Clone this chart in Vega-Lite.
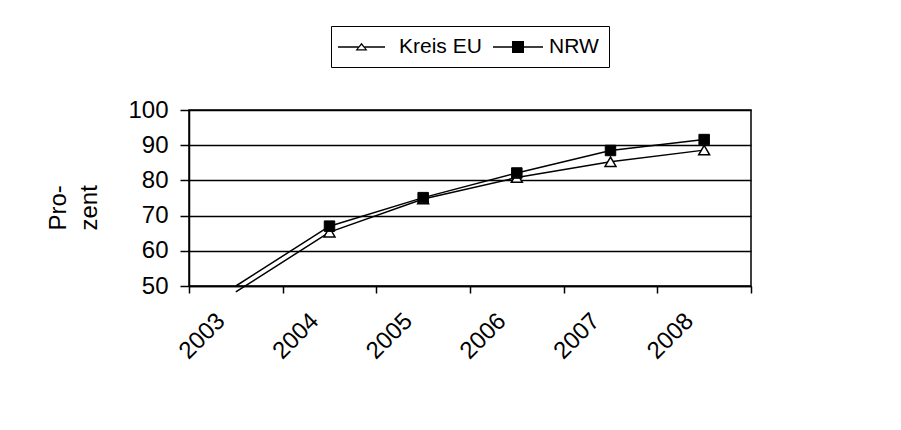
{
  "$schema": "https://vega.github.io/schema/vega-lite/v6.json",
  "width": 562,
  "height": 176,
  "autosize": {"type": "none"},
  "padding": {"left": 189, "top": 110, "right": 150, "bottom": 144},
  "background": "white",
  "config": {
    "font": "Liberation Sans",
    "view": {"stroke": "black", "strokeWidth": 1.5, "fill": "white"}
  },
  "data": {
    "values": [
      {"year": "2003", "series": "Kreis EU", "value": 48.3},
      {"year": "2004", "series": "Kreis EU", "value": 65.3},
      {"year": "2005", "series": "Kreis EU", "value": 74.7},
      {"year": "2006", "series": "Kreis EU", "value": 80.8},
      {"year": "2007", "series": "Kreis EU", "value": 85.3},
      {"year": "2008", "series": "Kreis EU", "value": 88.6},
      {"year": "2003", "series": "NRW", "value": 50.0},
      {"year": "2004", "series": "NRW", "value": 67.0},
      {"year": "2005", "series": "NRW", "value": 75.1},
      {"year": "2006", "series": "NRW", "value": 82.1},
      {"year": "2007", "series": "NRW", "value": 88.5},
      {"year": "2008", "series": "NRW", "value": 91.6}
    ]
  },
  "encoding": {
    "x": {
      "field": "year",
      "type": "ordinal",
      "scale": {"paddingInner": 0, "paddingOuter": 0},
      "axis": {
        "title": null,
        "tickBand": "extent",
        "labelAngle": -45,
        "labelAlign": "right",
        "labelBaseline": "middle",
        "labelFontSize": 24,
        "labelColor": "black",
        "labelPadding": 24,
        "labelOffset": -15,
        "tickColor": "black",
        "tickSize": 7,
        "tickWidth": 1.5,
        "domainColor": "black",
        "domainWidth": 1.5,
        "grid": false
      }
    },
    "y": {
      "field": "value",
      "type": "quantitative",
      "scale": {"domain": [50, 100], "nice": false, "zero": false},
      "axis": {
        "values": [50, 60, 70, 80, 90, 100],
        "grid": true,
        "gridColor": "black",
        "gridWidth": 1.4,
        "tickSize": 9,
        "tickColor": "black",
        "tickWidth": 1.5,
        "domainColor": "black",
        "domainWidth": 1.5,
        "labelFontSize": 24,
        "labelPadding": 12,
        "labelColor": "black",
        "title": ["Pro-", "zent"],
        "titleFontSize": 24,
        "titleFontWeight": "normal",
        "titleColor": "black",
        "titleAngle": -90,
        "titleAlign": "left",
        "titleBaseline": "alphabetic",
        "titleX": -124,
        "titleY": 120,
        "titleLineHeight": 31
      }
    }
  },
  "layer": [
    {
      "mark": {"type": "line", "color": "black", "strokeWidth": 1.5},
      "encoding": {"detail": {"field": "series"}}
    },
    {
      "transform": [{"filter": "datum.series == 'Kreis EU' && datum.year != '2003'"}],
      "mark": {"type": "point", "shape": "triangle-up", "filled": true, "fill": "white", "stroke": "black", "strokeWidth": 1.5, "size": 120, "opacity": 1}
    },
    {
      "transform": [{"filter": "datum.series == 'NRW' && datum.year != '2003'"}],
      "mark": {"type": "point", "shape": "square", "filled": true, "fill": "black", "stroke": "black", "strokeWidth": 1, "size": 110, "opacity": 1}
    },
    {
      "transform": [{"filter": "false"}],
      "mark": {"type": "point", "filled": true, "fill": "black", "opacity": 1},
      "encoding": {
        "shape": {
          "field": "series",
          "type": "nominal",
          "scale": {
            "domain": ["Kreis EU", "NRW"],
            "range": [
              "M-1.4,-0.075L0.65,-0.075L0.65,0.075L-1.4,0.075ZM1.25,-0.075L3.3,-0.075L3.3,0.075L1.25,0.075ZM0.95,-0.42L1.55,0.36L0.35,0.36ZM0.95,-0.2L0.58,0.22L1.32,0.22Z",
              "M-0.9,-0.075L4.1,-0.075L4.1,0.075L-0.9,0.075ZM1,-0.6L2.2,-0.6L2.2,0.6L1,0.6Z"
            ]
          },
          "legend": {
            "orient": "none",
            "legendX": 142,
            "legendY": -84,
            "direction": "horizontal",
            "columns": 2,
            "title": null,
            "strokeColor": "black",
            "fillColor": "white",
            "padding": 10,
            "labelFontSize": 21,
            "labelColor": "black",
            "labelFont": "Liberation Sans",
            "symbolSize": 400,
            "symbolFillColor": "black",
            "symbolOpacity": 1,
            "labelOffset": 36,
            "columnPadding": 8
          }
        }
      }
    }
  ]
}
